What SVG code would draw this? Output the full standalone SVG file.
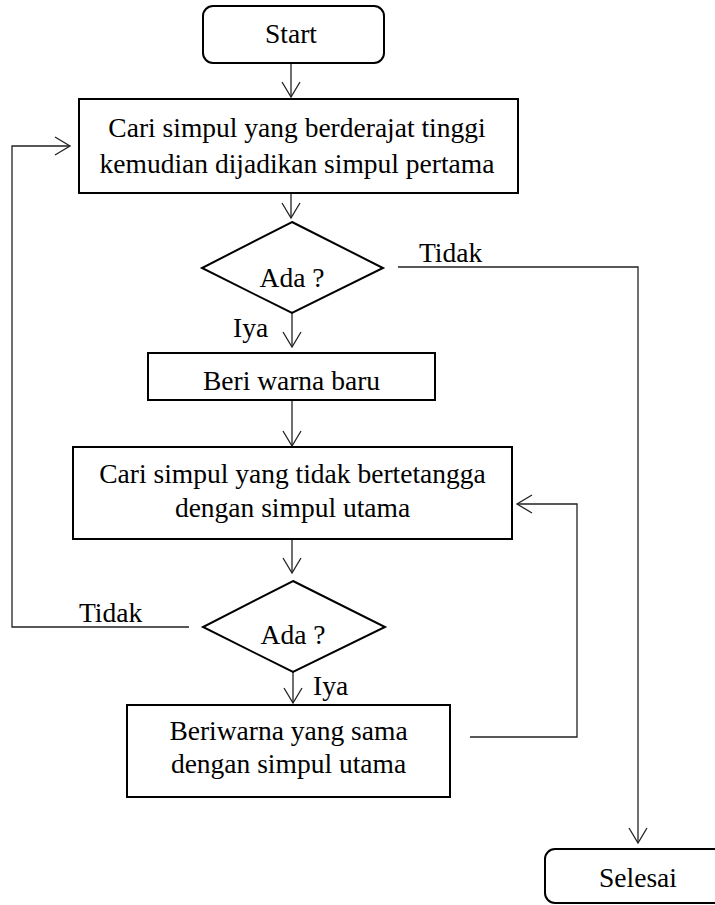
<svg xmlns="http://www.w3.org/2000/svg" width="715" height="905" viewBox="0 0 715 905">
<style>
.box{fill:#fff;stroke:#000;stroke-width:2}
.t{font-family:"Liberation Serif","Times New Roman",serif;font-size:27.5px;fill:#000;text-anchor:middle}
.tl{font-family:"Liberation Serif","Times New Roman",serif;font-size:27.5px;fill:#000}
.c{fill:none;stroke:#222;stroke-width:1.3}
</style>
<defs>
<marker id="ah" viewBox="0 0 20 20" refX="16" refY="10" markerWidth="20" markerHeight="20" markerUnits="userSpaceOnUse" orient="auto">
<path d="M1,1 L16,10 L1,19" fill="none" stroke="#222" stroke-width="1.3"/>
</marker>
</defs>
<rect width="715" height="905" fill="#fff"/>
<g id="connectors">
<line class="c" x1="291" y1="63" x2="291" y2="97" marker-end="url(#ah)"/>
<line class="c" x1="291" y1="193" x2="291" y2="218" marker-end="url(#ah)"/>
<line class="c" x1="292" y1="313" x2="292" y2="347" marker-end="url(#ah)"/>
<line class="c" x1="292" y1="400" x2="292" y2="446" marker-end="url(#ah)"/>
<line class="c" x1="292" y1="539" x2="292" y2="573" marker-end="url(#ah)"/>
<line class="c" x1="293" y1="672" x2="293" y2="703" marker-end="url(#ah)"/>
<polyline class="c" points="189,627 12,627 12,146 70,146" marker-end="url(#ah)"/>
<polyline class="c" points="398,267 638,267 638,843" marker-end="url(#ah)"/>
<polyline class="c" points="470,737 577,737 577,504 517,504" marker-end="url(#ah)"/>
<text class="tl" x="419" y="262">Tidak</text>
<text class="tl" x="79" y="622">Tidak</text>
<text class="tl" x="233" y="337">Iya</text>
<text class="tl" x="313" y="695">Iya</text>
</g>
<g id="start">
<rect class="box" x="203" y="6" width="181" height="57" rx="10"/>
<text class="t" x="291" y="43">Start</text>
</g>
<g id="cari-tinggi">
<rect class="box" x="79" y="99" width="439" height="94"/>
<text class="t" x="297" y="137">Cari simpul yang berderajat tinggi</text>
<text class="t" x="297" y="173">kemudian dijadikan simpul pertama</text>
</g>
<g id="ada1">
<polygon class="box" points="292,222 383,268 292,313 202,268"/>
<text class="t" x="292" y="287">Ada ?</text>
</g>
<g id="beri-warna">
<rect class="box" x="148" y="353" width="287" height="47"/>
<text class="t" x="291.5" y="390">Beri warna baru</text>
</g>
<g id="cari-tetangga">
<rect class="box" x="73" y="447" width="439" height="92"/>
<text class="t" x="292.5" y="483">Cari simpul yang tidak bertetangga</text>
<text class="t" x="292.5" y="517">dengan simpul utama</text>
</g>
<g id="ada2">
<polygon class="box" points="293,581 385,627 293,672 203,627"/>
<text class="t" x="293" y="644">Ada ?</text>
</g>
<g id="beriwarna-sama">
<rect class="box" x="127" y="705" width="323" height="92"/>
<text class="t" x="288.5" y="740">Beriwarna yang sama</text>
<text class="t" x="288.5" y="773">dengan simpul utama</text>
</g>
<g id="selesai">
<rect class="box" x="545" y="849" width="200" height="54" rx="10"/>
<text class="t" x="638" y="887">Selesai</text>
</g>
</svg>
